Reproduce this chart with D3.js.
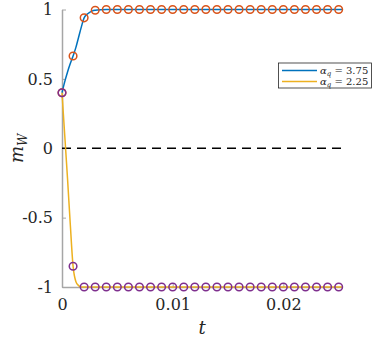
<!DOCTYPE html>
<html>
<head>
<meta charset="utf-8">
<script src="https://cdn.jsdelivr.net/npm/d3@7"></script>
<style>
  html, body { margin: 0; padding: 0; background: #ffffff; }
  svg { display: block; }
  text { font-family: "DejaVu Serif", "Liberation Serif", serif; fill: #262626; }
</style>
</head>
<body>
<svg id="chart" width="374" height="340"></svg>
<script>
// ---- data ----
const curveT = [0, 0.00025, 0.0005, 0.00075, 0.001, 0.00125, 0.0015, 0.00175, 0.002, 0.00225, 0.0025, 0.00275, 0.003, 0.0035, 0.004, 0.005, 0.01, 0.015, 0.02, 0.0253];
const curveBlue = [0.40, 0.48, 0.55, 0.61, 0.665, 0.725, 0.80, 0.875, 0.94, 0.965, 0.98, 0.99, 0.995, 0.999, 1, 1, 1, 1, 1, 1];
const curveYellow = [0.40, 0.09, -0.22, -0.55, -0.85, -0.96, -0.99, -1, -1, -1, -1, -1, -1, -1, -1, -1, -1, -1, -1, -1];

const markerT = [0, 0.001, 0.002, 0.003, 0.004, 0.005, 0.006, 0.007, 0.008, 0.009, 0.010, 0.011, 0.012, 0.013, 0.014, 0.015, 0.016, 0.017, 0.018, 0.019, 0.020, 0.021, 0.022, 0.023, 0.024, 0.025];
const markerBlue = [0.40, 0.665, 0.94, 0.995, 1, 1, 1, 1, 1, 1, 1, 1, 1, 1, 1, 1, 1, 1, 1, 1, 1, 1, 1, 1, 1, 1];
const markerYellow = [0.40, -0.85, -1, -1, -1, -1, -1, -1, -1, -1, -1, -1, -1, -1, -1, -1, -1, -1, -1, -1, -1, -1, -1, -1, -1, -1];

const xTicks = [0, 0.01, 0.02];
const xTickLabels = ["0", "0.01", "0.02"];
const yTicks = [-1, -0.5, 0, 0.5, 1];
const yTickLabels = ["-1", "-0.5", "0", "0.5", "1"];
const legendLabels = ["3.75", "2.25"];

// ---- layout ----
const svg = d3.select("#chart");
const mLeft = 62, mRight = 342, mTop = 9.5, mBottom = 287;
const x = d3.scaleLinear().domain([0, 0.0253]).range([mLeft, mRight]);
const y = d3.scaleLinear().domain([-1, 1]).range([mBottom, mTop]);

const blue = "#0072BD", yellow = "#EDB120", orange = "#D95319", purple = "#7E2F8E";
const axisColor = "#a6a6a6";
const serif = "'DejaVu Serif', 'Liberation Serif', serif";

// axes
const gx = svg.append("g").attr("transform", `translate(0,${mBottom})`)
  .call(d3.axisBottom(x).tickValues(xTicks).tickSizeInner(-4).tickSizeOuter(0)
    .tickFormat((d, i) => xTickLabels[i]).tickPadding(12));
gx.attr("font-family", null);
gx.select(".domain").attr("stroke", axisColor).attr("stroke-width", 1.5);
gx.selectAll(".tick line").attr("stroke", axisColor).attr("stroke-width", 1);
gx.selectAll(".tick text").attr("font-size", 16).attr("fill", "#262626")
  .style("font-family", serif);

const gy = svg.append("g").attr("transform", `translate(${mLeft},0)`)
  .call(d3.axisLeft(y).tickValues(yTicks).tickSizeInner(-4).tickSizeOuter(0)
    .tickFormat((d, i) => yTickLabels[i]).tickPadding(9));
gy.attr("font-family", null);
gy.select(".domain").attr("stroke", axisColor).attr("stroke-width", 1.5);
gy.selectAll(".tick line").attr("stroke", axisColor).attr("stroke-width", 1);
gy.selectAll(".tick text").attr("font-size", 16).attr("fill", "#262626")
  .style("font-family", serif);

// zero dashed line
svg.append("line")
  .attr("x1", x(0)).attr("x2", x(0.0253))
  .attr("y1", y(0)).attr("y2", y(0))
  .attr("stroke", "#000").attr("stroke-width", 1.3)
  .attr("stroke-dasharray", "9,6");

// curves
const line = d3.line().curve(d3.curveMonotoneX);
svg.append("path")
  .attr("d", line(curveT.map((t, i) => [x(t), y(curveBlue[i])])))
  .attr("fill", "none").attr("stroke", blue).attr("stroke-width", 1.5);
svg.append("path")
  .attr("d", line(curveT.map((t, i) => [x(t), y(curveYellow[i])])))
  .attr("fill", "none").attr("stroke", yellow).attr("stroke-width", 1.5);

// markers
svg.append("g").selectAll("circle").data(markerT).join("circle")
  .attr("cx", d => x(d)).attr("cy", (d, i) => y(markerBlue[i])).attr("r", 3.8)
  .attr("fill", "none").attr("stroke", orange).attr("stroke-width", 1.5);
svg.append("g").selectAll("circle").data(markerT).join("circle")
  .attr("cx", d => x(d)).attr("cy", (d, i) => y(markerYellow[i])).attr("r", 3.8)
  .attr("fill", "none").attr("stroke", purple).attr("stroke-width", 1.5);

// axis labels
svg.append("text").attr("x", (mLeft + mRight) / 2).attr("y", 334)
  .attr("text-anchor", "middle").attr("font-size", 18).attr("font-style", "italic").text("t");
const yl = svg.append("text")
  .attr("transform", `translate(23,${(mTop + mBottom) / 2}) rotate(-90)`)
  .attr("text-anchor", "middle").attr("font-size", 18).attr("font-style", "italic");
yl.append("tspan").text("m");
yl.append("tspan").attr("font-size", 12).attr("dy", 4).text("W");

// legend
const lg = svg.append("g");
lg.append("rect").attr("x", 278.5).attr("y", 63).attr("width", 93).attr("height", 25)
  .attr("fill", "#fff").attr("stroke", "#262626").attr("stroke-width", 0.8);
[blue, yellow].forEach((c, i) => {
  const yy = 70.5 + i * 11;
  lg.append("line").attr("x1", 282).attr("x2", 317).attr("y1", yy).attr("y2", yy)
    .attr("stroke", c).attr("stroke-width", 1.5);
  const t = lg.append("text").attr("x", 320).attr("y", yy + 3.5).attr("font-size", 10);
  t.append("tspan").attr("font-style", "italic").text("α");
  t.append("tspan").attr("font-style", "italic").attr("font-size", 7).attr("dy", 1.5).text("q");
  t.append("tspan").attr("dy", -1.5).text(" = " + legendLabels[i]);
});
</script>
</body>
</html>
